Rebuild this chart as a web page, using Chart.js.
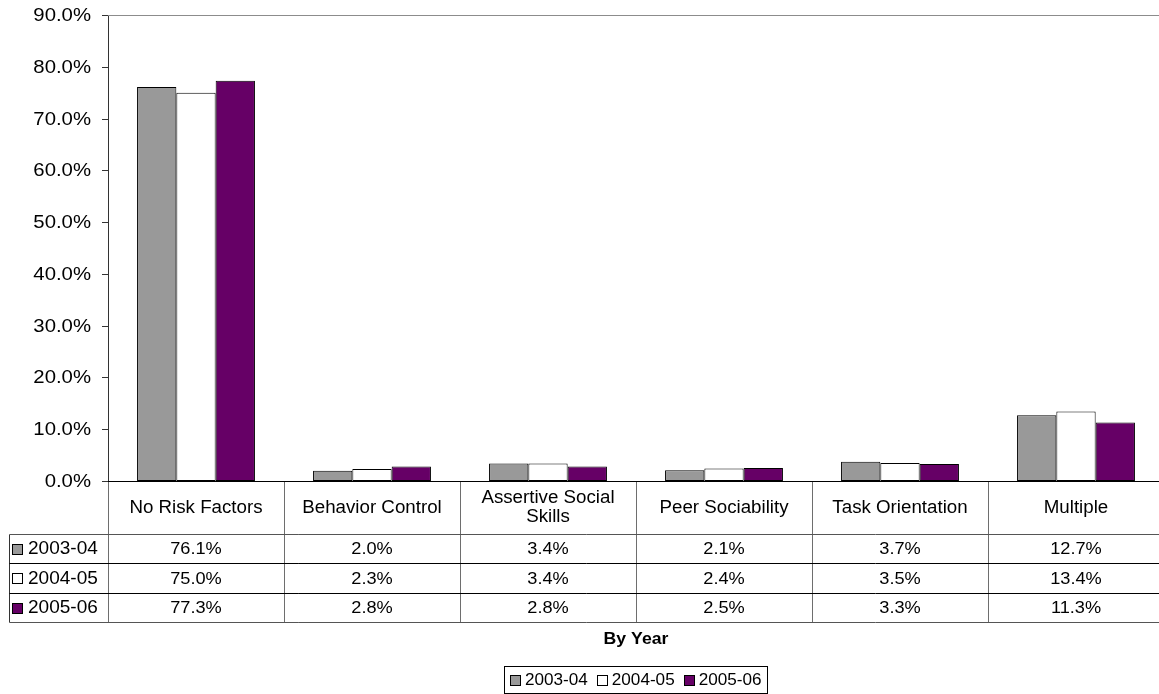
<!DOCTYPE html>
<html><head><meta charset="utf-8">
<script src="https://cdn.jsdelivr.net/npm/chart.js@4.4.0/dist/chart.umd.min.js"></script>
<style>html,body{margin:0;padding:0;background:#fff;overflow:hidden}</style>
</head><body>
<canvas id="c" width="1164" height="694"></canvas>
<script>
const categories = [["No Risk Factors"], ["Behavior Control"], ["Assertive Social", "Skills"], ["Peer Sociability"], ["Task Orientation"], ["Multiple"]];
const seriesNames = ["2003-04", "2004-05", "2005-06"];
const values2003 = [76.1, 2.0, 3.4, 2.1, 3.7, 12.7];
const values2004 = [75.0, 2.3, 3.4, 2.4, 3.5, 13.4];
const values2005 = [77.3, 2.8, 2.8, 2.5, 3.3, 11.3];
const yTickValues = [0, 10, 20, 30, 40, 50, 60, 70, 80, 90];
const axisTitle = "By Year";

const seriesValues = [values2003, values2004, values2005];
const colors = ['#999999', '#ffffff', '#660066'];
const SX = 1.07;
const FONT = '"Liberation Sans", Arial, Helvetica, sans-serif';

function txt(ctx, s, x, y, align, size, bold) {
  ctx.save();
  ctx.font = (bold ? 'bold ' : '') + size + 'px ' + FONT;
  ctx.textBaseline = 'middle';
  ctx.fillStyle = '#000';
  ctx.translate(x, y);
  ctx.scale(SX, 1);
  ctx.textAlign = align;
  ctx.fillText(s, 0, 0);
  ctx.restore();
}
function tw(ctx, s, size, bold) {
  ctx.save();
  ctx.font = (bold ? 'bold ' : '') + size + 'px ' + FONT;
  const w = ctx.measureText(s).width * SX;
  ctx.restore();
  return w;
}
function line(ctx, x1, y1, x2, y2, color) {
  ctx.save();
  ctx.strokeStyle = color; ctx.lineWidth = 1;
  ctx.beginPath(); ctx.moveTo(x1, y1); ctx.lineTo(x2, y2); ctx.stroke();
  ctx.restore();
}
function swatch(ctx, x, y, color) {
  ctx.save();
  ctx.fillStyle = color; ctx.fillRect(x, y, 11, 11);
  ctx.strokeStyle = '#000'; ctx.lineWidth = 1; ctx.strokeRect(x + 0.5, y + 0.5, 10, 10);
  ctx.restore();
}

const tablePlugin = {
  id: 'tablePlugin',
  afterDraw(chart) {
    const ctx = chart.ctx;
    const xs = chart.scales.x, ys = chart.scales.y;
    const L = chart.chartArea.left, R = chart.chartArea.right;
    const top = ys.getPixelForValue(yTickValues[yTickValues.length - 1]);
    const base = ys.getPixelForValue(0);
    // top plot border
    line(ctx, L, Math.round(top) + 0.5, R, Math.round(top) + 0.5, '#8c8c8c');
    // y ticks + labels
    yTickValues.forEach(v => {
      const py = Math.round(ys.getPixelForValue(v)) + 0.5;
      line(ctx, L - 6, py, L, py, '#333');
      txt(ctx, v.toFixed(1) + '%', 91, py + 0.5, 'right', 19);
    });
    // table
    const n = categories.length;
    const cw = xs.width / n;
    const headerBottom = base + 53;
    const rowH = 29.3;
    const rowsY = [headerBottom, headerBottom + rowH, headerBottom + 2 * rowH, headerBottom + 3 * rowH].map(v => Math.round(v) + 0.5);
    const tableLeft = 9.5;
    for (let i = 0; i <= n; i++) {
      const bx = Math.round(xs.getPixelForValue(0) - cw / 2 + i * cw) + 0.5;
      line(ctx, bx, base, bx, rowsY[3], '#6e6e6e');
    }
    line(ctx, tableLeft, rowsY[0], tableLeft, rowsY[3], '#333');
    rowsY.forEach((ry, k) => line(ctx, tableLeft, ry, R, ry, k === 0 || k === 3 ? '#555' : '#000'));
    line(ctx, L, Math.round(base) + 0.5, R, Math.round(base) + 0.5, '#000');
    // headers
    categories.forEach((lab, i) => {
      const cx = xs.getPixelForValue(i);
      const cy = (base + headerBottom) / 2 + 0.5;
      const lh = 19;
      lab.forEach((s, j) => txt(ctx, s, cx, cy + (j - (lab.length - 1) / 2) * lh, 'center', 17.5));
    });
    // rows
    seriesNames.forEach((nm, k) => {
      const cy = (rowsY[k] + rowsY[k + 1]) / 2;
      swatch(ctx, 12, Math.round(cy - 5.5), colors[k]);
      txt(ctx, nm, 28, cy + 0.5, 'left', 17.8);
      seriesValues[k].forEach((v, i) => {
        txt(ctx, v.toFixed(1) + '%', xs.getPixelForValue(i), cy + 0.5, 'center', 17);
      });
    });
    // axis title
    const mid = (L + R) / 2;
    txt(ctx, axisTitle, mid, 639, 'center', 16.5, true);
    // legend
    const LF = 16;
    const itemW = seriesNames.map(s => 11 + 4 + tw(ctx, s, LF));
    const gap = 9;
    const total = itemW.reduce((a, b) => a + b, 0) + gap * (seriesNames.length - 1) + 12;
    let lx = Math.round(mid - total / 2);
    const ly = 666, lhh = 27;
    ctx.save(); ctx.strokeStyle = '#000'; ctx.lineWidth = 1;
    ctx.strokeRect(lx + 0.5, ly + 0.5, Math.round(total), lhh); ctx.restore();
    let cx = lx + 6;
    seriesNames.forEach((s, k) => {
      swatch(ctx, Math.round(cx), ly + 9, colors[k]);
      txt(ctx, s, cx + 15, ly + 15, 'left', LF);
      cx += itemW[k] + gap;
    });
  }
};

new Chart(document.getElementById('c'), {
  type: 'bar',
  data: {
    labels: categories,
    datasets: seriesNames.map((nm, k) => ({
      label: nm,
      data: seriesValues[k],
      backgroundColor: colors[k],
      borderColor: '#000',
      borderWidth: 1,
      borderSkipped: false,
      categoryPercentage: 0.67,
      barPercentage: 1.0
    }))
  },
  options: {
    responsive: false,
    maintainAspectRatio: false,
    animation: false,
    layout: { padding: { top: 15, bottom: 213, left: 0, right: 0 } },
    plugins: { legend: { display: false }, tooltip: { enabled: false } },
    scales: {
      x: { display: false },
      y: {
        min: 0, max: 90,
        ticks: { display: false, stepSize: 10 },
        grid: { display: false },
        border: { display: true, color: '#333', width: 1 },
        afterFit(scale) { scale.width = 108; }
      }
    }
  },
  plugins: [tablePlugin]
});
</script>
</body></html>
